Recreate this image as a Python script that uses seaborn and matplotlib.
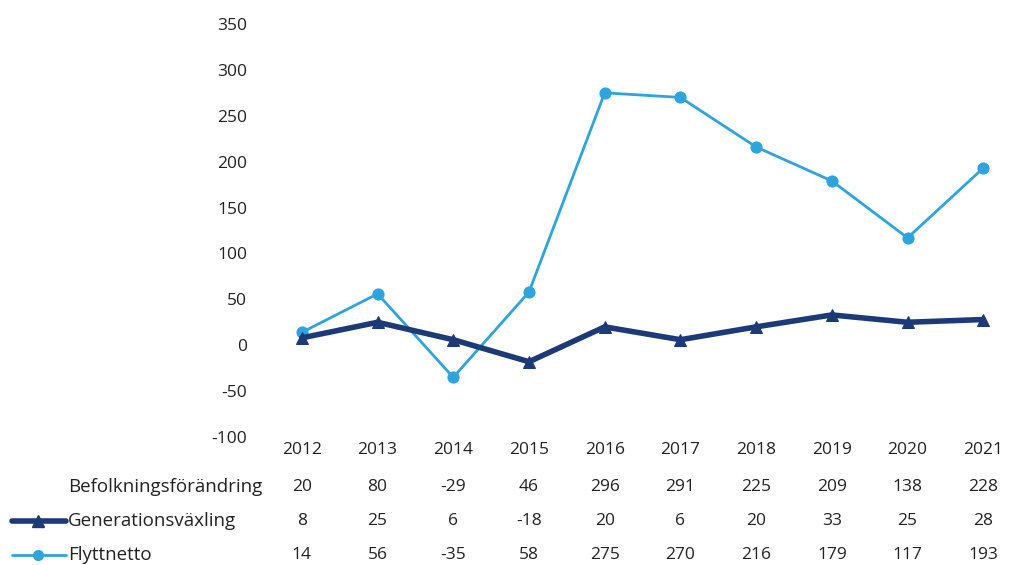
import pandas as pd
import seaborn as sns
import matplotlib
matplotlib.use("Agg")
from matplotlib import pyplot as plt
from matplotlib.lines import Line2D

years = ["2012", "2013", "2014", "2015", "2016", "2017", "2018", "2019", "2020", "2021"]
befolkning = [20, 80, -29, 46, 296, 291, 225, 209, 138, 228]
generation = [8, 25, 6, -18, 20, 6, 20, 33, 25, 28]
flytt = [14, 56, -35, 58, 275, 270, 216, 179, 117, 193]
y_ticks = [-100, -50, 0, 50, 100, 150, 200, 250, 300, 350]

dark = "#1c3a78"
light = "#2ea3de"
text_col = "#222222"

sns.set_style("white")
plt.rcParams['font.family'] = ['Open Sans', 'DejaVu Sans']

df = pd.DataFrame({
    "x": list(range(len(years))) * 2,
    "value": flytt + generation,
    "serie": ["Flyttnetto"] * len(years) + ["Generationsväxling"] * len(years),
})

fig = plt.figure(figsize=(10.09, 5.65), dpi=100)
ax = fig.add_axes([264 / 1009, 128 / 565, 745 / 1009, 413 / 565])

sns.lineplot(data=df[df.serie == "Flyttnetto"], x="x", y="value", color=light,
             linewidth=2, marker="o", markersize=8, markeredgecolor=light, ax=ax)
sns.lineplot(data=df[df.serie == "Generationsväxling"], x="x", y="value", color=dark,
             linewidth=4, marker="^", markersize=9, markeredgecolor=dark, ax=ax)

ax.set_xlim(-0.5, 9.34)
ax.set_ylim(-100, 350)
ax.set_yticks(y_ticks)
ax.set_yticklabels([str(t) for t in y_ticks], fontsize=12.5, color=text_col)
ax.tick_params(axis="y", length=0, pad=12)
ax.set_xticks([])
ax.set_xlabel("")
ax.set_ylabel("")
sns.despine(ax=ax, left=True, bottom=True)
if ax.get_legend():
    ax.get_legend().remove()

# data table below the plot
trans = ax.get_xaxis_transform()
rows = [(None, years, -0.032), ("Befolkningsförändring", befolkning, -0.12),
        ("Generationsväxling", generation, -0.203), ("Flyttnetto", flytt, -0.285)]
for label, vals, yy in rows:
    for i, v in enumerate(vals):
        ax.text(i, yy, str(v), transform=trans, ha="center", va="center",
                fontsize=12.5, color=text_col)
    if label:
        fig_y = (128 + yy * 413) / 565
        fig.text(68 / 1009, fig_y, label, ha="left", va="center",
                 fontsize=13.5, color=text_col)

# legend keys in the table
fig.add_artist(Line2D([12 / 1009, 66 / 1009], [1 - 521 / 565] * 2, color=dark, lw=4))
fig.add_artist(Line2D([38 / 1009], [1 - 521 / 565], color=dark, marker="^", markersize=9))
fig.add_artist(Line2D([12 / 1009, 66 / 1009], [1 - 555 / 565] * 2, color=light, lw=2))
fig.add_artist(Line2D([38 / 1009], [1 - 555 / 565], color=light, marker="o", markersize=7))

fig.savefig("out.png", dpi=100)
